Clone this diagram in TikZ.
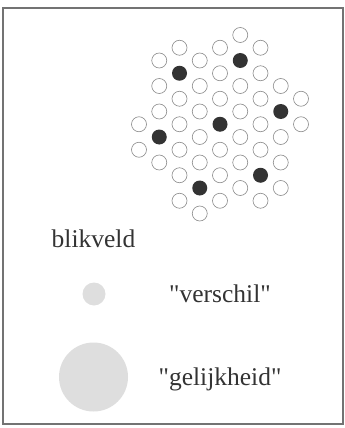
\documentclass[tikz,border=0pt]{standalone}
\usepackage{fontspec}
\setmainfont{Liberation Serif}
\usepackage{tikz}
\usetikzlibrary{positioning}

\begin{document}
\begin{tikzpicture}[
                x=1pt, y=-1pt,
                hole/.style={draw=black!45, line width=0.6pt, circle, minimum size=15pt, inner sep=0pt},
                dot/.style={fill=black!80, circle, minimum size=15pt, inner sep=0pt},
                spot/.style={fill=black!13, circle, inner sep=0pt},
                frame/.style={draw=black!55, line width=1.2pt},
                word/.style={anchor=base, text=black!80, font=\fontsize{25.5}{30}\selectfont}
            ]
            \useasboundingbox (0,0) rectangle (345,428);

            % Rahmen
            \draw[frame] (3,8) rectangle (343,424);

            % Gitter
            \foreach \col/\rows in {0/{7,9}, 1/{2,4,6,10}, 2/{1,5,7,9,11,13}, 3/{2,4,6,8,10,14},
                                    4/{1,3,5,9,11,13}, 5/{0,4,6,8,10,12}, 6/{1,3,5,7,9,13},
                                    7/{4,8,10,12}, 8/{5,7}}
                \foreach \row in \rows
                    \node[hole] (h-\col-\row) at (139+20.25*\col, 35+12.75*\row) {};
            \foreach \col/\row in {1/8, 2/3, 3/12, 4/7, 5/2, 6/11, 7/6}
                \node[dot] (d-\col-\row) at (139+20.25*\col, 35+12.75*\row) {};

            % Legende
            \node[word] (blik) at (93.5,247) {blikveld};
            \node[spot, minimum size=23pt] (small) at (94,294) {};
            \node[spot, minimum size=69pt] (large) at (93.5,377) {};
            \node[word] (verschil) at (220,302.7) {\textquotedbl verschil\textquotedbl};
            \node[word] (gelijk) at (220,385) {\textquotedbl gelijkheid\textquotedbl};

        \end{tikzpicture}
\end{document}
